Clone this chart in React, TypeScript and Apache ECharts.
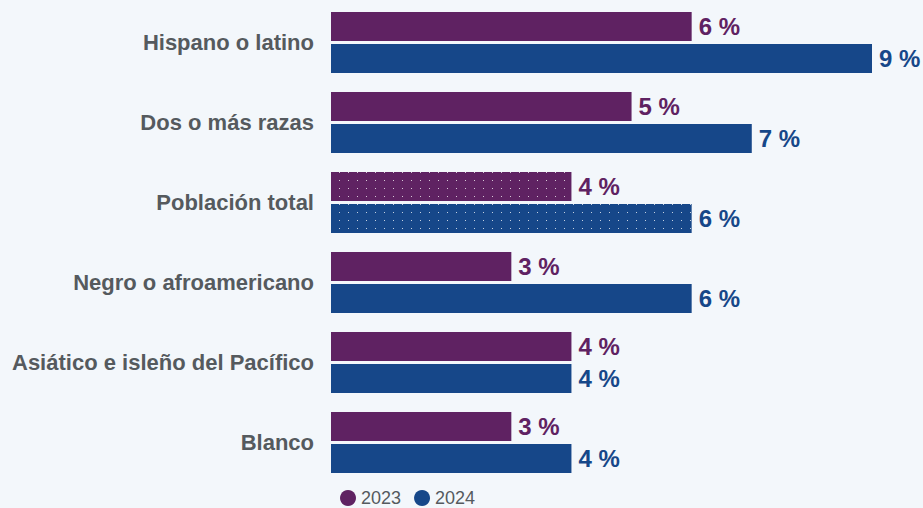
import React, { useEffect, useRef } from "react";
import * as echarts from "echarts";

const categories = [
  "Hispano o latino",
  "Dos o más razas",
  "Población total",
  "Negro o afroamericano",
  "Asiático e isleño del Pacífico",
  "Blanco",
];
const values2023 = [6, 5, 4, 3, 4, 3];
const values2024 = [9, 7, 6, 6, 4, 4];
const seriesNames = ["2023", "2024"];
const highlighted = "Población total";

const PURPLE = "#5f2262";
const BLUE = "#164789";
const FONT = "Liberation Sans, Arial, Helvetica, sans-serif";

function makePattern(bg: string): string {
  const c = document.createElement("canvas");
  c.width = 9;
  c.height = 8;
  const ctx = c.getContext("2d")!;
  ctx.fillStyle = bg;
  ctx.fillRect(0, 0, 9, 8);
  ctx.fillStyle = "rgba(255,255,255,0.75)";
  ctx.fillRect(6, 4, 1, 1);
  return c.toDataURL();
}

export default function App() {
  const ref = useRef<HTMLDivElement>(null);
  useEffect(() => {
    if (!ref.current) return;
    const chart = echarts.init(ref.current, null, { renderer: "svg" });
    const pats = [makePattern(PURPLE), makePattern(BLUE)];
    const colors = [PURPLE, BLUE];
    const mk = (vals: number[], i: number) => ({
      name: seriesNames[i],
      type: "bar",
      barWidth: 29,
      barGap: "10%",
      itemStyle: { color: colors[i] },
      label: {
        show: true,
        position: "right",
        distance: 7,
        formatter: (p: any) => `${p.value} %`,
        color: colors[i],
        fontSize: 24,
        fontWeight: "bold",
        fontFamily: FONT,
      },
      data: vals.map((v, k) =>
        categories[k] === highlighted
          ? { value: v, itemStyle: { color: { image: pats[i], repeat: "repeat" } } }
          : v
      ),
    });
    chart.setOption({
      animation: false,
      backgroundColor: "#f3f7fb",
      color: colors,
      grid: { left: 331, right: 51, top: 2.5, height: 480, containLabel: false },
      xAxis: {
        type: "value",
        min: 0,
        max: 9,
        show: false,
      },
      yAxis: {
        type: "category",
        inverse: true,
        data: categories,
        axisLine: { show: false },
        axisTick: { show: false },
        axisLabel: {
          margin: 17,
          color: "#555a5e",
          fontSize: 22,
          fontWeight: "bold",
          fontFamily: FONT,
        },
      },
      legend: {
        left: 340,
        top: 489,
        padding: 0,
        icon: "circle",
        itemWidth: 16,
        itemHeight: 16,
        itemGap: 13,
        textStyle: {
          color: "#555a5e",
          fontSize: 18,
          lineHeight: 16,
          fontFamily: FONT,
        },
        data: seriesNames,
      },
      series: [mk(values2023, 0), mk(values2024, 1)],
    });
    return () => chart.dispose();
  }, []);
  return (
    <div
      ref={ref}
      style={{ position: "fixed", left: 0, top: 0, width: 923, height: 508 }}
    />
  );
}
